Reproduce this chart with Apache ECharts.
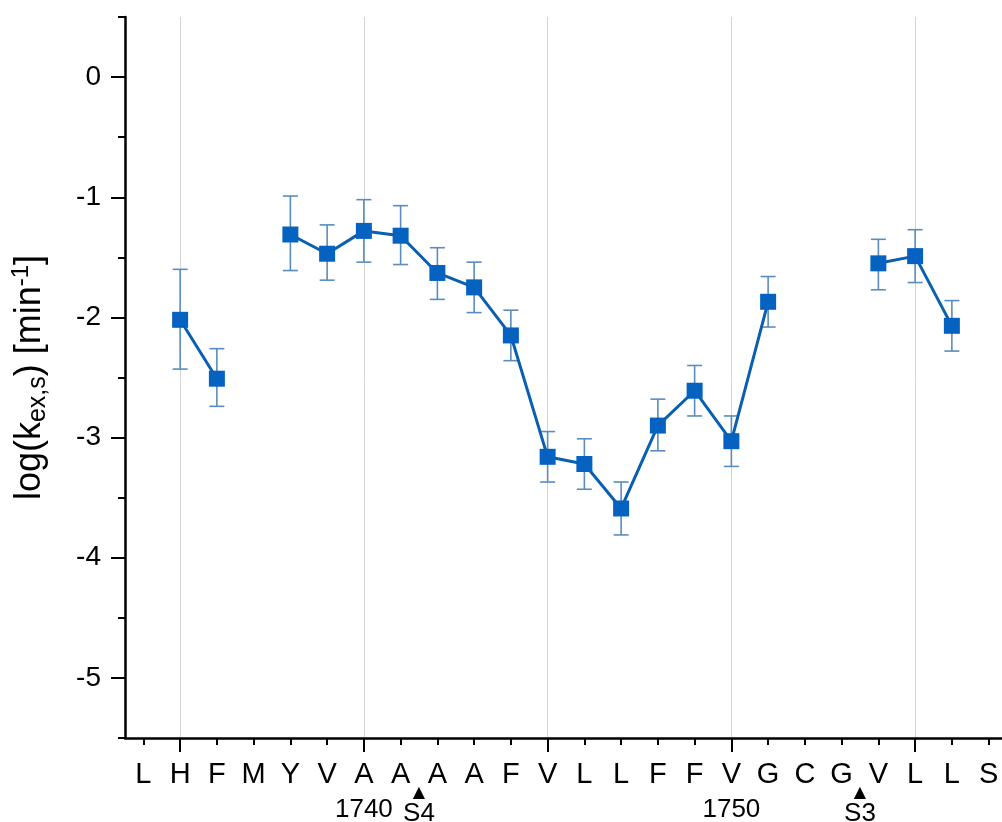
<!DOCTYPE html>
<html>
<head>
<meta charset="utf-8">
<script src="https://cdn.jsdelivr.net/npm/echarts@6/dist/echarts.min.js"></script>
<style>
html,body{margin:0;padding:0;background:#fff;}
#chart{width:1002px;height:822px;}
</style>
</head>
<body>
<div id="chart"></div>
<script>
// Residue sequence (x categories)
var categories = ['L','H','F','M','Y','V','A','A','A','A','F','V','L','L','F','F','V','G','C','G','V','L','L','S'];
// Residue numbers printed under some categories
var residueNumbers = ['', '', '', '', '', '', '1740', '', '', '', '', '', '', '', '', '', '1750', '', '', '', '', '', '', ''];
// log(k_ex,s) values
var logK = [null,-2.02,-2.51,null,-1.31,-1.47,-1.28,-1.32,-1.63,-1.75,-2.15,-3.16,-3.22,-3.59,-2.90,-2.61,-3.03,-1.87,null,null,-1.55,-1.49,-2.07,null];
// error bar upper and lower ends
var errHigh = [null,-1.60,-2.26,null,-0.99,-1.23,-1.02,-1.07,-1.42,-1.54,-1.94,-2.95,-3.01,-3.37,-2.68,-2.40,-2.82,-1.66,null,null,-1.35,-1.27,-1.86,null];
var errLow  = [null,-2.43,-2.74,null,-1.61,-1.69,-1.54,-1.56,-1.85,-1.96,-2.36,-3.37,-3.43,-3.81,-3.11,-2.82,-3.24,-2.08,null,null,-1.77,-1.71,-2.28,null];
// site markers between residues
var siteLabels = ['S4','S3'];
var sitePositions = [7.5, 19.5];
// axis tick values
var yMajorTicks = [-5,-4,-3,-2,-1,0];
var yMinorTicks = [-5.5,-4.5,-3.5,-2.5,-1.5,-0.5,0.5];
var xMajorTicks = [1,6,11,16,21];

var FONT = '"Liberation Sans", Arial, Helvetica, sans-serif';
var xAll = categories.map(function(_, i){ return i; });

var lineData = logK.map(function(v, i){ return [i, v]; });
var errData = [];
for (var i = 0; i < categories.length; i++) {
  if (errHigh[i] != null && errLow[i] != null) errData.push([i, errHigh[i], errLow[i]]);
}

var chart = echarts.init(document.getElementById('chart'), null, {renderer:'canvas'});
var xBase = {type:'value', min:-0.5, max:23.5, gridIndex:0, position:'bottom', splitLine:{show:false}};
var option = {
  animation:false,
  backgroundColor:'#fff',
  grid:{left:125, top:17, width:882, height:721, containLabel:false, outerBoundsMode:'none'},
  xAxis:[
    Object.assign({}, xBase, {
      axisLine:{show:true, onZero:false, lineStyle:{color:'#000', width:2.5}},
      axisTick:{show:true, customValues:xAll, length:7, inside:false, lineStyle:{color:'#000', width:2}},
      axisLabel:{show:true, customValues:xAll, margin:20, fontSize:29, fontFamily:FONT, color:'#000', lineHeight:34,
        formatter:function(v){
          var i = Math.round(v);
          var s = categories[i] || '';
          if (residueNumbers[i]) s += '\n{n|' + residueNumbers[i] + '}';
          return s;
        },
        rich:{n:{fontSize:26, fontFamily:FONT, color:'#000', lineHeight:36}}
      }
    }),
    Object.assign({}, xBase, {
      axisLine:{show:false, onZero:false},
      axisTick:{show:true, customValues:xMajorTicks, length:14, inside:false, lineStyle:{color:'#000', width:2}},
      axisLabel:{show:false},
      splitLine:{show:true, lineStyle:{color:'#d4d4d4', width:1}}
    }),
    Object.assign({}, xBase, {
      axisLine:{show:false, onZero:false},
      axisTick:{show:false},
      axisLabel:{show:true, customValues:sitePositions, margin:48, fontFamily:FONT, color:'#000',
        formatter:function(v){
          var k = sitePositions.indexOf(v);
          return k < 0 ? '' : '{t|\u25B2}\n{s|' + siteLabels[k] + '}';
        },
        rich:{
          t:{fontSize:16, fontFamily:'"DejaVu Sans", sans-serif', color:'#000', lineHeight:14},
          s:{fontSize:26, fontFamily:FONT, color:'#000', lineHeight:28}
        }
      }
    })
  ],
  yAxis:[
    {
      type:'value', min:-5.5, max:0.5, position:'left',
      axisLine:{show:true, onZero:false, lineStyle:{color:'#000', width:2.5}},
      axisTick:{show:true, customValues:yMajorTicks, length:14, inside:false, lineStyle:{color:'#000', width:2}},
      axisLabel:{show:true, customValues:yMajorTicks, margin:24, fontSize:28, fontFamily:FONT, color:'#000',
        formatter:function(v){ return String(v); }},
      splitLine:{show:false},
      name:'log(k{sub|ex,s}) [min{sup|-1}]',
      nameLocation:'middle', nameRotate:90, nameGap:74,
      nameTextStyle:{fontSize:36, fontFamily:FONT, color:'#000', lineHeight:42,
        rich:{
          sub:{fontSize:25, fontFamily:FONT, color:'#000', verticalAlign:'bottom', lineHeight:26},
          sup:{fontSize:24, fontFamily:FONT, color:'#000', verticalAlign:'top', lineHeight:24}
        }
      }
    },
    {
      type:'value', min:-5.5, max:0.5, position:'left',
      axisLine:{show:false, onZero:false},
      axisTick:{show:true, customValues:yMinorTicks, length:7, inside:false, lineStyle:{color:'#000', width:2}},
      axisLabel:{show:false},
      splitLine:{show:false}
    }
  ],
  series:[
    {
      type:'custom', xAxisIndex:0, yAxisIndex:0, z:2,
      data:errData,
      encode:{x:0, y:[1,2]},
      renderItem:function(params, api){
        var x = api.value(0);
        var pHi = api.coord([x, api.value(1)]);
        var pLo = api.coord([x, api.value(2)]);
        var hw = 7.5;
        var st = {stroke:'#5a8cbd', lineWidth:1.6};
        return {type:'group', children:[
          {type:'line', shape:{x1:pHi[0], y1:pHi[1], x2:pLo[0], y2:pLo[1]}, style:st},
          {type:'line', shape:{x1:pHi[0]-hw, y1:pHi[1], x2:pHi[0]+hw, y2:pHi[1]}, style:st},
          {type:'line', shape:{x1:pLo[0]-hw, y1:pLo[1], x2:pLo[0]+hw, y2:pLo[1]}, style:st}
        ]};
      }
    },
    {
      type:'line', xAxisIndex:0, yAxisIndex:0, z:3,
      data:lineData, connectNulls:false,
      symbol:'rect', symbolSize:16, showSymbol:true,
      lineStyle:{color:'#0b5fb0', width:3},
      itemStyle:{color:'#0562c0', borderWidth:0}
    }
  ]
};
chart.setOption(option);
</script>
</body>
</html>
